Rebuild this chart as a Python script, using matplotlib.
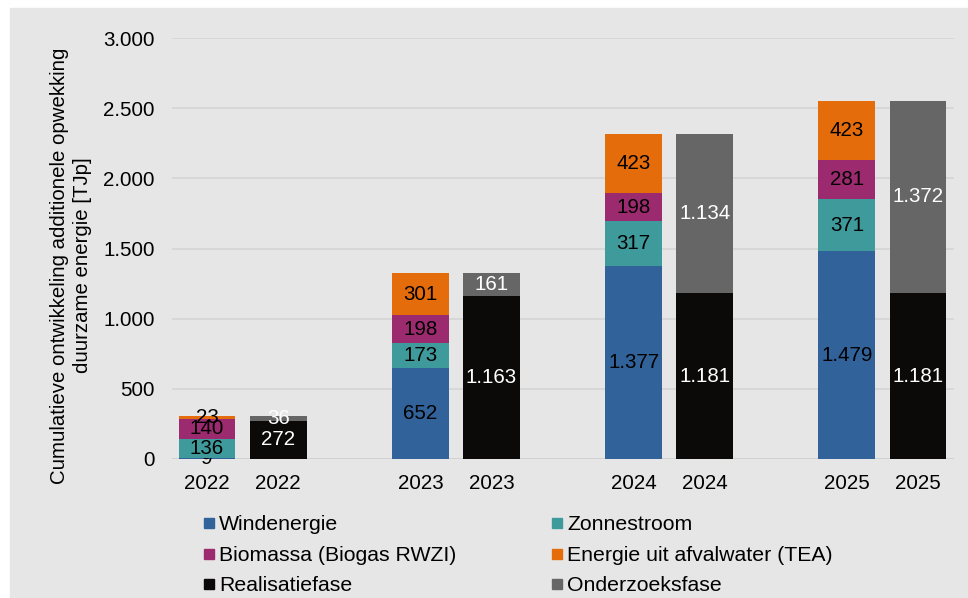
import matplotlib.pyplot as plt
from matplotlib.patches import Rectangle
from matplotlib.lines import Line2D

plt.rcParams['font.family'] = ['Liberation Sans', 'DejaVu Sans']

# categories (blank slots between the year groups)
positions = [0, 1, 3, 4, 6, 7, 9, 10]
tick_labels = ['2022', '2022', '2023', '2023', '2024', '2024', '2025', '2025']
years_left = [0, 3, 6, 9]
years_right = [1, 4, 7, 10]

# technology split (left bar of each year)
wind = [9, 652, 1377, 1479]
zon = [136, 173, 317, 371]
bio = [140, 198, 198, 281]
tea = [23, 301, 423, 423]

# phase split (right bar of each year)
realisatie = [272, 1163, 1181, 1181]
onderzoek = [36, 161, 1134, 1372]

c_wind = '#31639a'
c_zon = '#3f9a9c'
c_bio = '#9c2a6e'
c_tea = '#e46c0a'
c_real = '#0c0a08'
c_ond = '#666666'
bg = '#e6e6e6'


def fmt(v):
    return f'{v:,}'.replace(',', '.')


fig = plt.figure(figsize=(9.68, 5.98), dpi=100)
fig.patches.append(Rectangle((10 / 968, 0), 958 / 968, 590 / 598,
                             transform=fig.transFigure, color=bg, zorder=-5))
ax = fig.add_axes([171.5 / 968, 1 - 459 / 598, 782 / 968, 421 / 598])
ax.set_facecolor(bg)

fs = 14.8
w = 0.8
bottom = [0, 0, 0, 0]
for vals, col in [(wind, c_wind), (zon, c_zon), (bio, c_bio), (tea, c_tea)]:
    bars = ax.bar(years_left, vals, w, bottom=bottom, color=col, zorder=3)
    ax.bar_label(bars, labels=[fmt(v) for v in vals], label_type='center',
                 color='black', fontsize=fs)
    bottom = [b + v for b, v in zip(bottom, vals)]

bottom = [0, 0, 0, 0]
for vals, col in [(realisatie, c_real), (onderzoek, c_ond)]:
    bars = ax.bar(years_right, vals, w, bottom=bottom, color=col, zorder=3)
    ax.bar_label(bars, labels=[fmt(v) for v in vals], label_type='center',
                 color='white', fontsize=fs)
    bottom = [b + v for b, v in zip(bottom, vals)]

ax.set_xlim(-0.5, 10.5)
ax.set_ylim(0, 3000)
ax.set_yticks([0, 500, 1000, 1500, 2000, 2500, 3000])
ax.set_yticklabels([fmt(v) for v in [0, 500, 1000, 1500, 2000, 2500, 3000]])
ax.set_xticks(positions)
ax.set_xticklabels(tick_labels)
ax.tick_params(axis='both', length=0, labelsize=fs)
ax.tick_params(axis='y', pad=12)
ax.tick_params(axis='x', pad=11)
ax.grid(axis='y', color='#d4d4d4', linewidth=1.2, zorder=0)
for s in ax.spines.values():
    s.set_visible(False)
ax.axhline(0, color='#d0d0d0', linewidth=1.2, zorder=2)

ax.set_ylabel('Cumulatieve ontwikkeling additionele opwekking\nduurzame energie [TJp]',
              fontsize=14.7, linespacing=1.25)
ax.yaxis.set_label_coords(-0.1017, 0.46)


def handle(c):
    return Line2D([], [], marker='s', linestyle='none', markersize=7,
                  markerfacecolor=c, markeredgecolor=c)


leg_kw = dict(frameon=False, fontsize=15.3, handlelength=0.5, handletextpad=0.23,
              labelspacing=0.54, borderaxespad=0, borderpad=0)
fig.legend([handle(c_wind), handle(c_bio), handle(c_real)],
           ['Windenergie', 'Biomassa (Biogas RWZI)', 'Realisatiefase'],
           loc='upper left', bbox_to_anchor=(203.5 / 968, 1 - 515.5 / 598), **leg_kw)
fig.legend([handle(c_zon), handle(c_tea), handle(c_ond)],
           ['Zonnestroom', 'Energie uit afvalwater (TEA)', 'Onderzoeksfase'],
           loc='upper left', bbox_to_anchor=(551.5 / 968, 1 - 515.5 / 598), **leg_kw)

fig.savefig('out.png', dpi=100)
